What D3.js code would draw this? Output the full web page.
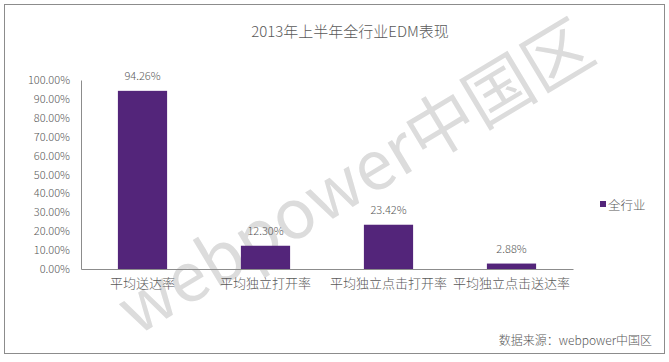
<!DOCTYPE html>
<html>
<head>
	<meta charset="utf-8">
	<title>2013年上半年全行业EDM表现</title>
	<script src="https://cdn.jsdelivr.net/npm/d3@7"></script>
	<style>
		body { margin: 0; background: #fff; }
		svg { display: block; font-family: "Noto Sans CJK SC", "Noto Sans", sans-serif; }
	</style>
</head>
<body>
	<div id="chart"></div>
	<script>

		// data
		const categories = ["平均送达率", "平均独立打开率", "平均独立点击打开率", "平均独立点击送达率"];
		const values = [94.26, 12.30, 23.42, 2.88];
		const yTicks = [0, 10, 20, 30, 40, 50, 60, 70, 80, 90, 100];
		const seriesName = "全行业";

		const width = 669, height = 362;
		const barColor = "#53257a";
		const textColor = "#595959";

		const svg = d3.select("#chart").append("svg")
			.attr("width", width)
			.attr("height", height);

		// frame
		svg.append("rect")
			.attr("x", 4.5).attr("y", 4.5)
			.attr("width", 660).attr("height", 349)
			.attr("fill", "#fff")
			.attr("stroke", "#8c8c8c");

		// watermark (behind the bars)
		svg.append("text")
			.attr("transform", "translate(358,182) rotate(-31)")
			.attr("text-anchor", "middle")
			.attr("dominant-baseline", "middle")
			.attr("font-size", 68)
			.attr("fill", "#dcdcdc")
			.text("webpower中国区");

		const x = d3.scaleBand()
			.domain(categories)
			.range([81, 573])
			.paddingInner(0.6)
			.paddingOuter(0.3);

		const y = d3.scaleLinear()
			.domain([0, 100])
			.range([269, 80]);

		// title
		svg.append("text")
			.attr("x", 350).attr("y", 37)
			.attr("text-anchor", "middle")
			.attr("font-size", 15)
			.attr("font-weight", 300)
			.attr("fill", textColor)
			.text("2013年上半年全行业EDM表现");

		// y axis
		const yAxis = svg.append("g")
			.attr("transform", "translate(81,0)")
			.call(d3.axisLeft(y).tickValues(yTicks).tickSize(0).tickPadding(11)
				.tickFormat(d => d.toFixed(2) + "%"));
		yAxis.select(".domain").attr("stroke", "#8c8c8c");
		yAxis.selectAll("text")
			.attr("font-size", 11)
			.attr("font-family", "'Noto Sans CJK SC', sans-serif")
			.attr("font-weight", 300)
			.attr("fill", textColor);

		// x axis
		const xAxis = svg.append("g")
			.attr("transform", "translate(0,269)")
			.call(d3.axisBottom(x).tickSize(0).tickPadding(10));
		xAxis.select(".domain").attr("stroke", "#8c8c8c");
		xAxis.selectAll("text")
			.attr("font-size", 13)
			.attr("font-family", "'Noto Sans CJK SC', sans-serif")
			.attr("font-weight", 300)
			.attr("fill", textColor);

		// bars
		svg.append("g")
			.selectAll("rect")
			.data(values)
			.join("rect")
			.attr("x", (d, i) => x(categories[i]))
			.attr("y", d => y(d))
			.attr("width", x.bandwidth())
			.attr("height", d => y(0) - y(d))
			.attr("fill", barColor);

		// data labels
		svg.append("g")
			.selectAll("text")
			.data(values)
			.join("text")
			.attr("x", (d, i) => x(categories[i]) + x.bandwidth() / 2)
			.attr("y", d => y(d) - 11)
			.attr("text-anchor", "middle")
			.attr("font-size", 11)
			.attr("font-weight", 300)
			.attr("fill", textColor)
			.text(d => d.toFixed(2) + "%");

		// legend
		const legend = svg.append("g").attr("transform", "translate(600,204)");
		legend.append("rect")
			.attr("x", 0).attr("y", -3)
			.attr("width", 6).attr("height", 6)
			.attr("fill", barColor);
		legend.append("text")
			.attr("x", 8).attr("y", 0)
			.attr("dominant-baseline", "central")
			.attr("font-size", 12.5)
			.attr("font-weight", 300)
			.attr("fill", textColor)
			.text(seriesName);

		// source
		svg.append("text")
			.attr("x", 652).attr("y", 345)
			.attr("text-anchor", "end")
			.attr("font-size", 12)
			.attr("font-weight", 300)
			.attr("fill", textColor)
			.text("数据来源：webpower中国区");

	</script>
</body>
</html>
